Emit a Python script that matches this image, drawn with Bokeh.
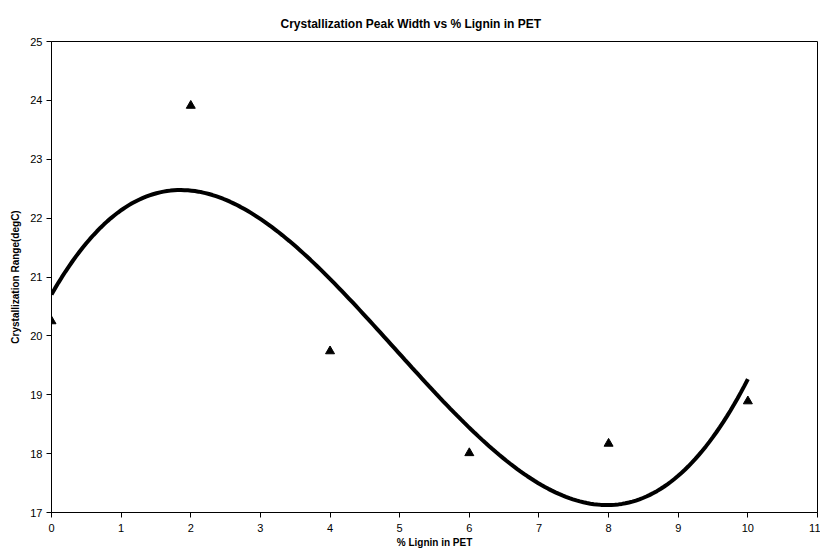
import numpy as np
from bokeh.plotting import figure
from bokeh.models import Title, FixedTicker, Range1d
from bokeh.embed import file_html
from bokeh.resources import INLINE

lignin_pct = [0, 2, 4, 6, 8, 10]
cryst_range = [20.25, 23.91, 19.74, 18.01, 18.17, 18.89]
x_ticks = list(range(0, 12))
y_ticks = list(range(17, 26))

# cubic trendline fitted to the data (as the original chart's trendline)
coef = np.polyfit(lignin_pct, cryst_range, 3)
xs = np.linspace(min(lignin_pct), max(lignin_pct), 200)
ys = np.polyval(coef, xs)

p = figure(width=820, height=550, output_backend="svg", toolbar_location=None,
           x_range=Range1d(0, 11), y_range=Range1d(17, 25),
           min_border_left=51, min_border_right=3, min_border_top=41, min_border_bottom=37)
p.title = None
t = Title(text="Crystallization Peak Width vs % Lignin in PET", align="left",
          text_font="Liberation Sans", text_font_size="12px", text_font_style="bold",
          text_color="black", offset=229, standoff=21)
p.add_layout(t, "above")

p.line(xs, ys, line_color="black", line_width=4)
p.scatter(lignin_pct, cryst_range, marker="triangle", size=9, fill_color="black", line_color="black")

p.xgrid.visible = False
p.ygrid.visible = False
p.outline_line_color = "black"
p.outline_line_width = 1
p.background_fill_color = "white"
p.border_fill_color = "white"

for ax in (p.xaxis[0], p.yaxis[0]):
    ax.major_tick_in = 0
    ax.major_tick_out = 5
    ax.minor_tick_line_color = None
    ax.axis_line_color = "black"
    ax.major_tick_line_color = "black"
    ax.major_label_text_font = "Liberation Sans"
    ax.major_label_text_font_size = "11px"
    ax.major_label_text_color = "black"
    ax.axis_label_text_font = "Liberation Sans"
    ax.axis_label_text_font_size = "10px"
    ax.axis_label_text_font_style = "bold"
    ax.axis_label_text_color = "black"

p.xaxis.ticker = FixedTicker(ticks=x_ticks)
p.yaxis.ticker = FixedTicker(ticks=y_ticks)
p.xaxis.axis_label = "% Lignin in PET"
p.yaxis.axis_label = "Crystallization Range(degC)"
p.xaxis.major_label_standoff = 6
p.xaxis.axis_label_standoff = 2
p.yaxis.major_label_standoff = 4
p.yaxis.axis_label_standoff = 6

open("out.html", "w").write(file_html(p, INLINE))
